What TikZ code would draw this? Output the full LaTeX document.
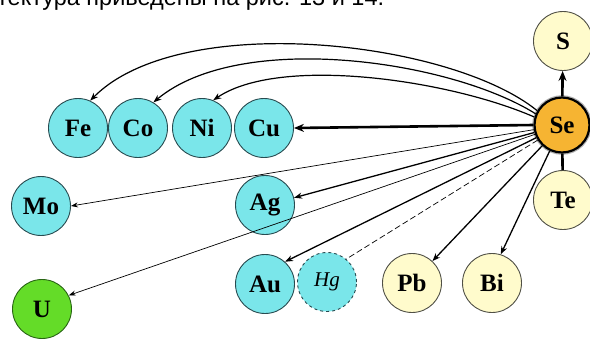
\documentclass[tikz,border=0pt]{standalone}
\usepackage{fontspec}
\setmainfont{Liberation Serif}
\newfontfamily\capsans{Liberation Sans}
\usetikzlibrary{arrows.meta}
\definecolor{cyanfill}{RGB}{122,230,234}
\definecolor{cyanedge}{RGB}{40,75,80}
\definecolor{yelfill}{RGB}{255,251,204}
\definecolor{yeledge}{RGB}{80,80,70}
\definecolor{sefill}{RGB}{246,180,50}
\definecolor{ufill}{RGB}{100,220,40}
\definecolor{uedge}{RGB}{40,100,20}
\tikzset{
  elem/.style={circle, minimum size=59pt, inner sep=0pt, line width=0.9pt,
    font=\fontsize{25}{28}\selectfont\bfseries},
  cyanel/.style={elem, fill=cyanfill, draw=cyanedge},
  yelel/.style={elem, fill=yelfill, draw=yeledge},
  sel/.style={elem, fill=sefill, draw=black, line width=2.2pt, minimum size=55pt,
    preaction={draw=gray!60, line width=4.6pt}},
  uel/.style={elem, fill=ufill, draw=uedge},
  hgel/.style={cyanel, dashed, font=\fontsize{21}{24}\selectfont\itshape\mdseries},
  thinarr/.style={line width=0.7pt, -{Stealth[length=7pt,width=5pt]}},
  medarr/.style={line width=1.3pt, -{Stealth[length=8pt,width=6pt]}},
  curvarr/.style={line width=1.2pt, -{Stealth[length=8pt,width=6pt]}},
  thickarr/.style={line width=2.6pt, -{Stealth[length=10pt,width=8pt]}},
  dashlink/.style={line width=0.7pt, dash pattern=on 6pt off 3pt},
}
\begin{document}
\begin{tikzpicture}[x=1pt,y=-1pt]
\useasboundingbox (0,0) rectangle (590,338);
\begin{scope}
  \clip (0,0) rectangle (590,338);
  \node[anchor=base west, inner sep=0pt, font=\capsans\fontsize{23.5}{28}\selectfont] (cap) at (-3,5) {тектура приведены на рис. 13 и 14.};
\end{scope}
% nodes
\node[yelel] (S)  at (563,41)  {S};
\node[sel]   (Se) at (562,125) {Se};
\node[yelel] (Te) at (563,200) {Te};
\node[cyanel] (Fe) at (78,128)  {Fe};
\node[cyanel] (Co) at (138,128) {Co};
\node[cyanel] (Ni) at (202,128) {Ni};
\node[cyanel] (Cu) at (264,128) {Cu};
\node[cyanel] (Mo) at (41,206)  {Mo};
\node[cyanel] (Ag) at (265,205) {Ag};
\node[cyanel] (Au) at (265,284) {Au};
\node[hgel]   (Hg) at (327,282) {Hg};
\node[yelel]  (Pb) at (412,283) {Pb};
\node[yelel]  (Bi) at (492,283) {Bi};
\node[uel]    (U)  at (42,309)  {U};
% connectors
\draw[thickarr] (Se) -- (S);
\draw[line width=2.6pt] (Se) -- (Te);
\draw[thickarr] (Se.west) -- (Cu.east);
\draw[curvarr] (Se.150) .. controls (450,40) and (180,10) .. (Fe.66);
\draw[curvarr] (Se.157) .. controls (450,60) and (240,30) .. (Co.59);
\draw[curvarr] (Se.164) .. controls (450,80) and (280,55) .. (Ni.68);
\draw[thinarr] (Se) -- (Mo.east);
\draw[medarr] (Se) -- (Ag.14);
\draw[thinarr] (Se) -- (U.27);
\draw[medarr] (Se) -- (Au.48);
\draw[dashlink] (Se) -- (Hg.50);
\draw[medarr] (Se) -- (Pb.47);
\draw[medarr] (Se) -- (Bi.73);
\end{tikzpicture}
\end{document}
